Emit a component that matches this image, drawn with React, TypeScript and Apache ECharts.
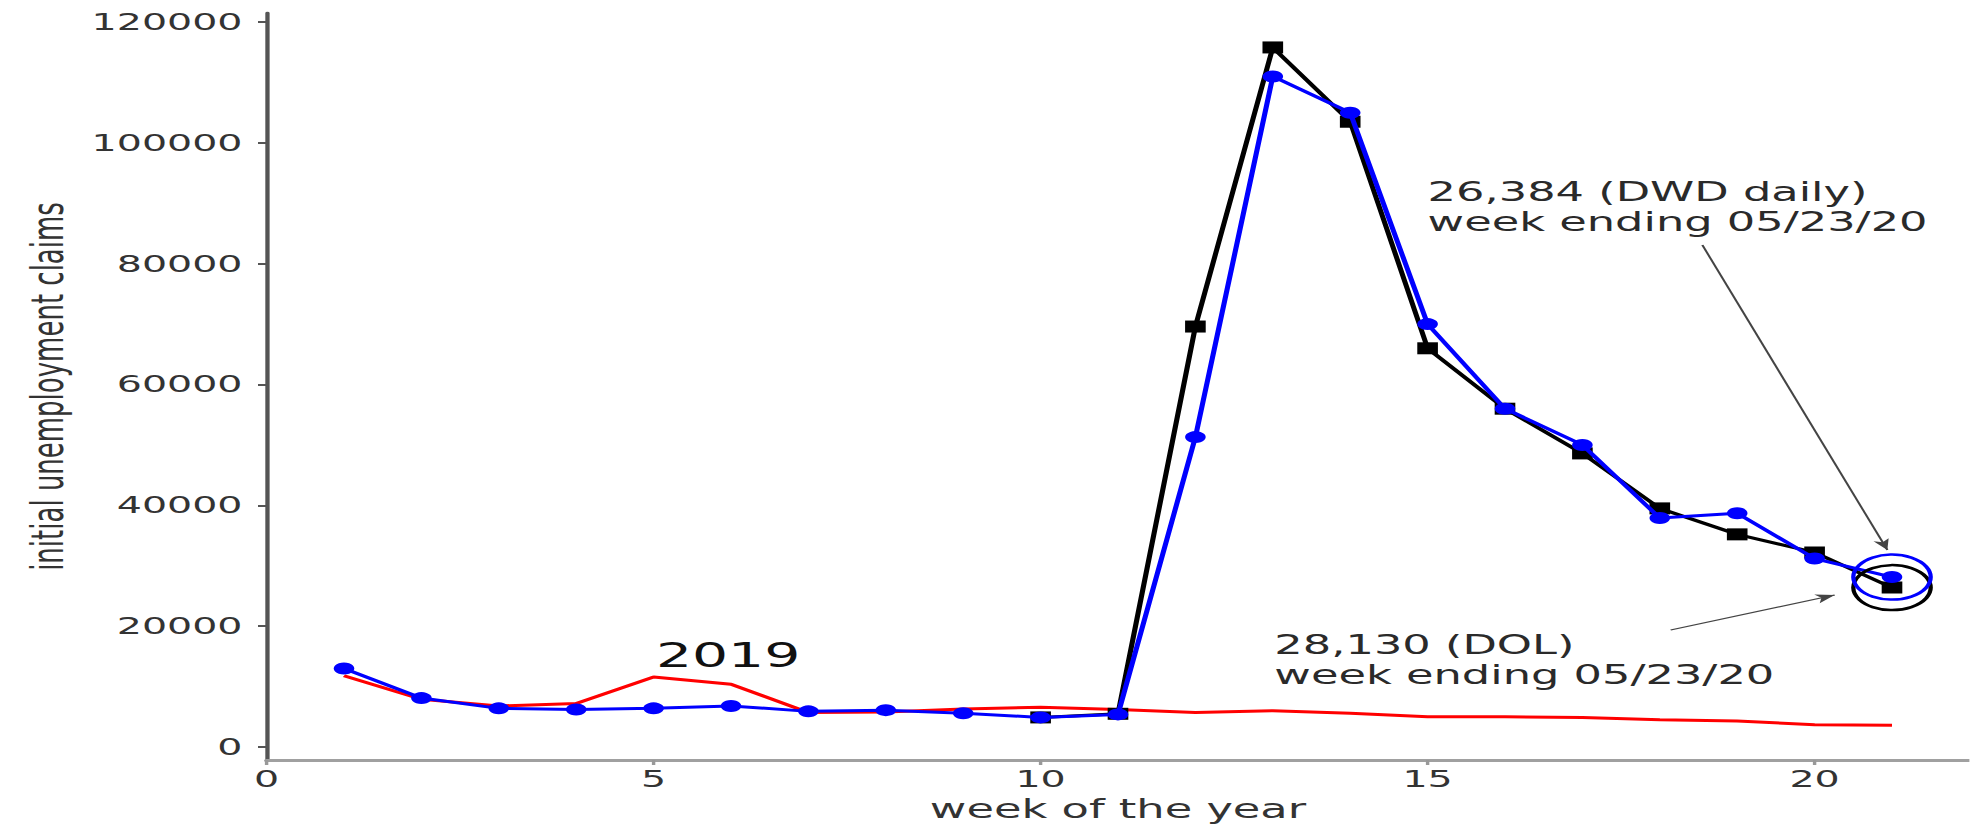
import React, { useEffect, useRef } from "react";
import * as echarts from "echarts";

// ---- data ----
const weeks = [1, 2, 3, 4, 5, 6, 7, 8, 9, 10, 11, 12, 13, 14, 15, 16, 17, 18, 19, 20, 21];
const claims2019 = [11800, 7900, 6800, 7200, 11600, 10400, 5700, 5800, 6300, 6600, 6200, 5700, 6000, 5600, 5000, 5000, 4900, 4500, 4300, 3700, 3600];
const dolClaims2020 = [13000, 8100, 6400, 6200, 6400, 6800, 5900, 6100, 5600, 4900, 5400, 51300, 111000, 105000, 70000, 56000, 50000, 37900, 38700, 31200, 28130];
const dwdWeeks = [10, 11, 12, 13, 14, 15, 16, 17, 18, 19, 20, 21];
const dwdClaims2020 = [4900, 5500, 69600, 115800, 103500, 66000, 56000, 48600, 39500, 35200, 32200, 26384];
const xTicks = [0, 5, 10, 15, 20];
const yTicks = [0, 20000, 40000, 60000, 80000, 100000, 120000];
const annotationTexts = [
  "26,384 (DWD daily)\nweek ending 05/23/20",
  "28,130 (DOL)\nweek ending 05/23/20",
  "2019",
];
const annotationAnchors = [
  [15.0, 94370],
  [13.02, 19370],
  [5.03, 17810],
];
const arrowLines = [
  [[18.55, 83100], [20.94, 32600]],
  [[18.14, 19370], [20.26, 25160]],
];

const STRETCH = 1.72;
const W = 1970;
const H = 829;
const FONT = "DejaVu Sans";

export default function App() {
  const ref = useRef<HTMLDivElement>(null);

  useEffect(() => {
    if (!ref.current) return;
    const chart = echarts.init(ref.current, null, { renderer: "svg" });
    const lastIdx = weeks.length - 1;
    const dwdLast = dwdWeeks.length - 1;

    const option: any = {
      animation: false,
      backgroundColor: "#ffffff",
      textStyle: { fontFamily: FONT },
      grid: { left: 155, right: 0, top: 13, bottom: 69, containLabel: false },
      xAxis: {
        type: "value",
        min: 0,
        max: 22,
        name: "week of the year",
        nameLocation: "middle",
        nameGap: 34,
        nameTextStyle: { fontSize: 26, color: "#333", fontFamily: FONT },
        axisLine: { show: true, onZero: false, lineStyle: { color: "#a0a0a0", width: 3 } },
        axisTick: { show: true, customValues: xTicks, length: 5, lineStyle: { color: "#999", width: 2 } },
        axisLabel: {
          customValues: xTicks,
          fontSize: 23,
          color: "#333",
          margin: 8,
          fontFamily: FONT,
          formatter: (v: number) => String(v),
        },
        splitLine: { show: false },
      },
      yAxis: {
        type: "value",
        min: -2150,
        max: 121500,
        name: "initial unemployment claims",
        nameLocation: "middle",
        nameGap: 114,
        nameTextStyle: { fontSize: 26, color: "#333", fontFamily: FONT },
        axisLine: { show: true, lineStyle: { color: "#555", width: 2.5 } },
        axisTick: { show: true, customValues: yTicks, length: 5, lineStyle: { color: "#555", width: 2 } },
        axisLabel: {
          customValues: yTicks,
          fontSize: 23,
          color: "#333",
          margin: 14,
          fontFamily: FONT,
          formatter: (v: number) => String(v),
        },
        splitLine: { show: false },
      },
      series: [
        {
          name: "2019",
          type: "line",
          data: weeks.map((w, i) => [w, claims2019[i]]),
          symbol: "none",
          lineStyle: { color: "#ff0000", width: 3 },
          itemStyle: { color: "#ff0000" },
          silent: true,
          z: 2,
          markLine: {
            silent: true,
            symbol: ["none", "arrow"],
            symbolSize: [7, 11],
            lineStyle: { color: "#444", width: 1.3, type: "solid" },
            label: { show: false },
            data: arrowLines.map((l) => [{ coord: l[0] }, { coord: l[1] }]),
          },
          markPoint: {
            silent: true,
            symbol: "circle",
            symbolSize: 0,
            itemStyle: { color: "transparent" },
            data: annotationAnchors.map((a, i) => ({
              coord: a,
              label: {
                show: true,
                position: [0, 0],
                align: "left",
                verticalAlign: "top",
                formatter: annotationTexts[i],
                fontFamily: FONT,
                fontSize: i === 2 ? 33 : 26,
                lineHeight: i === 2 ? 33 : 30,
                color: i === 2 ? "#111" : "#2a2a2a",
              },
            })),
          },
        },
        {
          name: "DWD daily",
          type: "line",
          data: dwdWeeks.map((w, i) => [w, dwdClaims2020[i]]),
          symbol: "rect",
          symbolSize: 12,
          lineStyle: { color: "#000000", width: 3 },
          itemStyle: { color: "#000000" },
          silent: true,
          z: 3,
          markPoint: {
            silent: true,
            symbol: "circle",
            symbolSize: 45,
            itemStyle: { color: "transparent", borderColor: "#000000", borderWidth: 2.5 },
            label: { show: false },
            data: [{ coord: [dwdWeeks[dwdLast], dwdClaims2020[dwdLast]] }],
          },
        },
        {
          name: "DOL",
          type: "line",
          data: weeks.map((w, i) => [w, dolClaims2020[i]]),
          symbol: "circle",
          symbolSize: 12,
          lineStyle: { color: "#0000ff", width: 3 },
          itemStyle: { color: "#0000ff" },
          silent: true,
          z: 4,
          markPoint: {
            silent: true,
            symbol: "circle",
            symbolSize: 45,
            itemStyle: { color: "transparent", borderColor: "#0000ff", borderWidth: 2.5 },
            label: { show: false },
            data: [{ coord: [weeks[lastIdx], dolClaims2020[lastIdx]] }],
          },
        },
      ],
    };
    chart.setOption(option);
    return () => chart.dispose();
  }, []);

  return (
    <div
      style={{
        position: "fixed",
        left: 0,
        top: 0,
        width: W,
        height: H,
        overflow: "hidden",
        background: "#ffffff",
      }}
    >
      <div
        ref={ref}
        style={{
          width: W / STRETCH,
          height: H,
          transform: `scaleX(${STRETCH})`,
          transformOrigin: "0 0",
        }}
      />
    </div>
  );
}
